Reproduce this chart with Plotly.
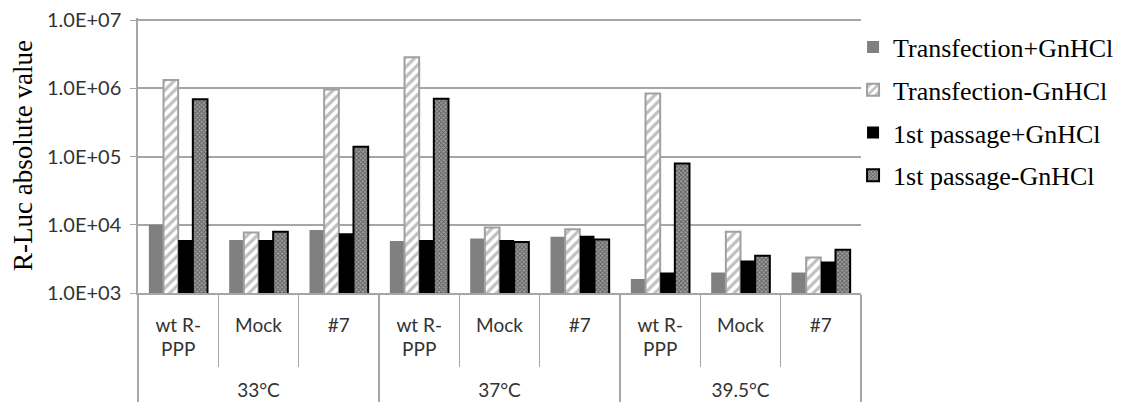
import plotly.graph_objects as go

temps = ["33°C"] * 3 + ["37°C"] * 3 + ["39.5°C"] * 3
pad = "<br><span style='font-size:40px'> </span>"
samples = ["wt R-<br>PPP" + pad, "Mock<br> " + pad, "#7<br> " + pad] * 3

series_names = ["Transfection+GnHCl", "Transfection-GnHCl", "1st passage+GnHCl", "1st passage-GnHCl"]
transfection_plus = [1.0e4, 6.0e3, 8.4e3, 5.8e3, 6.3e3, 6.7e3, 1.6e3, 2.0e3, 2.0e3]
transfection_minus = [1.32e6, 7.7e3, 9.6e5, 2.84e6, 9.1e3, 8.6e3, 8.4e5, 7.9e3, 3.3e3]
passage_plus = [6.0e3, 6.0e3, 7.5e3, 6.0e3, 6.0e3, 6.9e3, 2.0e3, 3.0e3, 2.9e3]
passage_minus = [6.9e5, 7.9e3, 1.39e5, 7.0e5, 5.6e3, 6.1e3, 7.9e4, 3.5e3, 4.3e3]

ytick_vals = [1e3, 1e4, 1e5, 1e6, 1e7]
ytick_text = ["1.0E+03", "1.0E+04", "1.0E+05", "1.0E+06", "1.0E+07"]

x = [temps, samples]

fig = go.Figure()
fig.add_trace(go.Bar(
    x=x, y=transfection_plus, name=series_names[0], legendgroup="a",
    marker=dict(color="#808080", line=dict(width=0)),
))
fig.add_trace(go.Bar(
    x=x, y=transfection_minus, name=series_names[1], legendgroup="b",
    marker=dict(color="white", line=dict(color="#a0a0a0", width=2),
                pattern=dict(shape="/", fgcolor="#808080", bgcolor="white", size=7, solidity=0.45)),
))
fig.add_trace(go.Bar(
    x=x, y=passage_plus, name=series_names[2], legendgroup="c",
    marker=dict(color="black", line=dict(width=0)),
))
fig.add_trace(go.Bar(
    x=x, y=passage_minus, name=series_names[3], legendgroup="d",
    marker=dict(color="#666666", line=dict(color="black", width=2),
                pattern=dict(shape="x", fgcolor="#1a1a1a", bgcolor="#a0a0a0", size=3, solidity=0.5)),
))

# page body adds an 8px margin, so the figure is 8px smaller than the window
fig.update_layout(
    width=1121, height=399,
    margin=dict(l=130, r=251, t=10, b=114),
    paper_bgcolor="white", plot_bgcolor="white",
    barmode="group", bargap=0.27, bargroupgap=0,
    showlegend=True,
    legend=dict(
        x=0.989, y=0.98, xanchor="left", yanchor="top",
        font=dict(family="Liberation Serif", size=26, color="black"),
        tracegroupgap=6, bgcolor="rgba(0,0,0,0)",
    ),
    font=dict(family="Lato", size=20, color="#333333"),
)

fig.update_yaxes(
    type="log", range=[3, 7.03],
    tickvals=ytick_vals, ticktext=ytick_text,
    tickfont=dict(family="Lato", size=20, color="#333333"),
    ticklabeloverflow="allow",
    showgrid=True, gridcolor="#a6a6a6", gridwidth=1.5,
    showline=True, linecolor="#a6a6a6", linewidth=1.5,
    ticks="outside", ticklen=6, tickcolor="#a6a6a6",
    ticklabelstandoff=5,
    title=dict(text="R-Luc absolute value", font=dict(family="Liberation Serif", size=27, color="black"), standoff=23),
    zeroline=False, automargin=False,
)

fig.update_xaxes(
    type="multicategory",
    tickfont=dict(family="Lato", size=19, color="#333333"),
    showline=True, linecolor="#a6a6a6", linewidth=1.5,
    ticks="outside", tickson="boundaries", ticklen=72, tickcolor="#a6a6a6",
    ticklabelstandoff=14,
    showdividers=True, dividercolor="#a6a6a6", dividerwidth=1.5,
    showgrid=False, automargin=False,
)

fig.write_html("out.html")
